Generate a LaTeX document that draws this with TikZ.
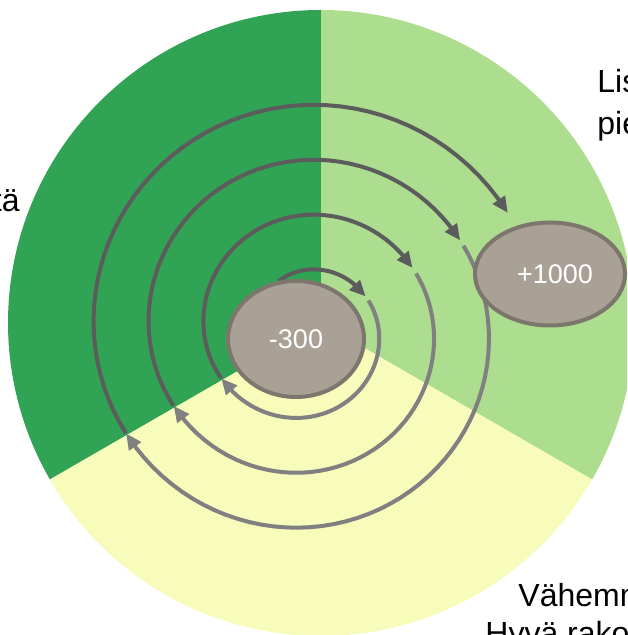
\documentclass[tikz,border=0pt]{standalone}
\usepackage{fontspec}
\setmainfont{Liberation Sans}
\usetikzlibrary{shapes.geometric,arrows.meta}

\definecolor{deepgreen}{RGB}{48,163,85}
\definecolor{palegreen}{RGB}{173,222,143}
\definecolor{paleyellow}{RGB}{247,252,187}
\definecolor{arcdark}{RGB}{92,92,92}
\definecolor{arclight}{RGB}{128,128,128}
\definecolor{blobfill}{RGB}{170,161,150}
\definecolor{blobline}{RGB}{125,118,108}

% one half turn of the spiral: style, from, last sample, tip
\newcommand{\spiralpart}[4]{\draw[#1] plot[domain=#2:#3, samples=50] ({305+sr(\x)*cos(\x)}, {305+sr(\x)*sin(\x)}) -- ({305+sr(#4)*cos(#4)}, {305+sr(#4)*sin(#4)});}

\begin{document}
\begin{tikzpicture}[x=0.5pt, y=0.5pt,
  declare function={sr(\t)=60+0.1528*(90-(\t));},
  upper/.style = {draw=arcdark, line width=2pt, -{Triangle[length=8pt,width=7pt]}},
  lower/.style = {draw=arclight, line width=2pt, -{Triangle[length=8pt,width=7pt]}},
  blob/.style = {ellipse, draw=blobline, fill=blobfill, line width=2pt, text=white, font=\fontsize{13.5}{15}\selectfont, inner sep=0pt},
  sidetext/.style = {font=\fontsize{16}{21}\selectfont, inner sep=0pt}]
\useasboundingbox (0,0) rectangle (627,635);
\clip (0,0) rectangle (627,635);

% three sectors
\fill[deepgreen] (321,312) -- +(90:313) arc[start angle=90, end angle=210, radius=313] -- cycle;
\fill[palegreen] (321,312) -- +(-30:313) arc[start angle=-30, end angle=90, radius=313] -- cycle;
\fill[paleyellow] (321,312) -- +(210:313) arc[start angle=210, end angle=330, radius=313] -- cycle;

% spiral
\spiralpart{upper}{118}{44}{29}
\spiralpart{lower}{25}{-139}{-150}
\spiralpart{upper}{-150}{-322}{-330}
\spiralpart{lower}{-333}{-503}{-510}
\spiralpart{upper}{-510}{-684}{-690}
\spiralpart{lower}{-692}{-865}{-870}
\spiralpart{upper}{-870}{-1045.6}{-1050}

\node[blob, minimum width=68pt, minimum height=58pt] (loss) at (296,296) {-300};
\node[blob, minimum width=75pt, minimum height=51.5pt] (gain) at (550,361) {\hspace{5pt}+1000};

\node[sidetext, anchor=base east] (lefttext) at (20,423) {tä};
\node[sidetext, anchor=base west] (topline) at (597,542) {Lis};
\node[sidetext, anchor=base west] (topline2) at (597,500) {pie};
\node[sidetext, anchor=base west] (lowline) at (518,28) {Vähemm};
\node[sidetext, anchor=base west] (lowline2) at (485,-10) {Hyvä rako};
\end{tikzpicture}
\end{document}
